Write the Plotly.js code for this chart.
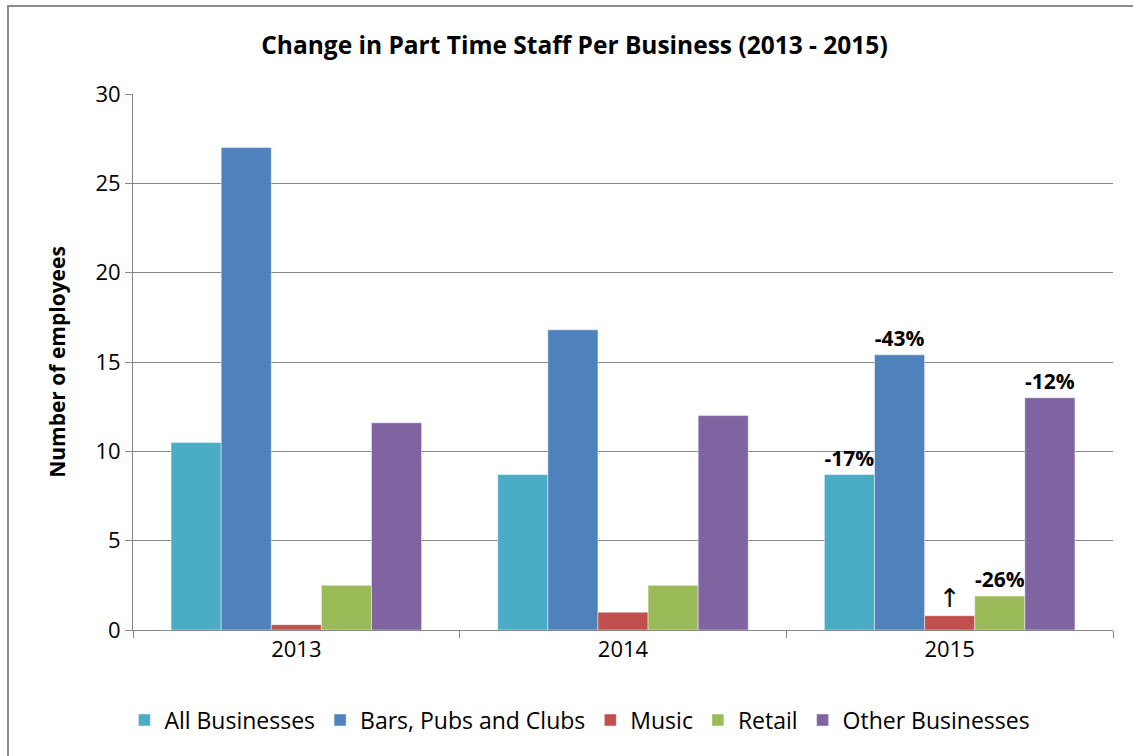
<!DOCTYPE html>
<html>
<head>
<meta charset="utf-8">
<script src="https://cdn.plot.ly/plotly-3.0.1.min.js"></script>
<style>
  html, body { margin: 0; padding: 0; background: #fff; overflow: hidden; }
  #chart { width: 1133px; height: 756px; }
  #frame { position: absolute; left: 7px; top: 5px; width: 1200px; height: 800px; border-left: 2px solid #8c8c8c; border-top: 2px solid #8c8c8c; pointer-events: none; box-sizing: border-box; }
</style>
</head>
<body>
<div id="chart"></div>
<div id="frame"></div>
<script>
const years = ['2013', '2014', '2015'];
const seriesNames = ['All Businesses', 'Bars, Pubs and Clubs', 'Music', 'Retail', 'Other Businesses'];
const allBusinesses = [10.5, 8.7, 8.7];
const barsPubsClubs = [27.0, 16.8, 15.4];
const music = [0.3, 1.0, 0.8];
const retail = [2.5, 2.5, 1.9];
const otherBusinesses = [11.6, 12.0, 13.0];
const labelsAll = ['', '', '-17%'];
const labelsBars = ['', '', '-43%'];
const labelsMusic = ['', '', '↑'];
const labelsRetail = ['', '', '-26%'];
const labelsOther = ['', '', '-12%'];
const colors = ['#4BACC6', '#4F81BD', '#C0504D', '#9BBB59', '#8064A2'];

const values = [allBusinesses, barsPubsClubs, music, retail, otherBusinesses];
const labels = [labelsAll, labelsBars, labelsMusic, labelsRetail, labelsOther];
const FONT = 'Open Sans, Liberation Sans, sans-serif';

const traces = seriesNames.map((name, i) => ({
  type: 'bar',
  name: name,
  x: years,
  y: values[i],
  text: labels[i],
  textposition: 'outside',
  constraintext: 'none',
  cliponaxis: false,
  textfont: {
    family: i === 2 ? 'DejaVu Sans, sans-serif' : FONT,
    size: i === 2 ? 26 : 21,
    color: '#000',
    weight: i === 2 ? 'normal' : 'bold'
  },
  marker: { color: colors[i], line: { color: 'rgba(255,255,255,0.45)', width: 1 } },
  hoverinfo: 'skip'
}));

const layout = {
  width: 1133,
  height: 756,
  margin: { l: 133, r: 20, t: 94, b: 126 },
  paper_bgcolor: '#fff',
  plot_bgcolor: '#fff',
  barmode: 'group',
  bargap: 0.233,
  bargroupgap: 0,
  font: { family: FONT, size: 22, color: '#000' },
  title: {
    text: '<b>Change in Part Time Staff Per Business (2013 - 2015)</b>',
    font: { family: FONT, size: 24.5, color: '#000' },
    x: 0.507, xanchor: 'center', xref: 'container',
    y: 0.94, yanchor: 'middle', yref: 'container'
  },
  xaxis: {
    type: 'category',
    showline: true, linecolor: '#868686', linewidth: 1,
    ticks: 'outside', tickson: 'boundaries', ticklen: 7, tickcolor: '#868686',
    showgrid: false,
    tickfont: { family: FONT, size: 22, color: '#000' },
    fixedrange: true
  },
  yaxis: {
    range: [0, 30],
    dtick: 5,
    showline: true, linecolor: '#868686', linewidth: 1,
    ticks: 'outside', ticklen: 7, tickcolor: '#868686',
    showgrid: true, gridcolor: '#868686', gridwidth: 1,
    zeroline: false,
    tickfont: { family: FONT, size: 22, color: '#000' },
    title: { text: '<b>Number of employees</b>', font: { family: FONT, size: 21, color: '#000' }, standoff: 24 },
    fixedrange: true
  },
  showlegend: true,
  legend: {
    orientation: 'h',
    x: 0.456, xanchor: 'center',
    y: -0.168, yanchor: 'middle',
    font: { family: FONT, size: 23, color: '#000' },
    itemwidth: 20,
    traceorder: 'normal'
  }
};

Plotly.newPlot('chart', traces, layout, { displayModeBar: false, staticPlot: true });
</script>
</body>
</html>
